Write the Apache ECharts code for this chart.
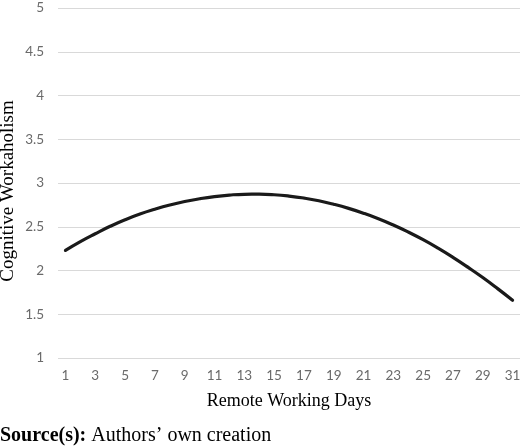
<!DOCTYPE html>
<html>
<head>
<meta charset="utf-8">
<script src="https://cdn.jsdelivr.net/npm/echarts@6/dist/echarts.min.js"></script>
<style>
  html, body { margin: 0; padding: 0; background: #fff; }
  #chart-container { width: 520px; height: 448px; }
</style>
</head>
<body>
<div id="chart-container"></div>
<script>
// remote working days (x axis categories)
const days = [1, 2, 3, 4, 5, 6, 7, 8, 9, 10, 11, 12, 13, 14, 15, 16,
  17, 18, 19, 20, 21, 22, 23, 24, 25, 26, 27, 28, 29, 30, 31];
// cognitive workaholism
const workaholism = [2.23, 2.33, 2.42, 2.505, 2.58, 2.645, 2.70, 2.748, 2.788, 2.82, 2.845,
  2.862, 2.871, 2.872, 2.866, 2.851, 2.828, 2.797, 2.757, 2.71, 2.655, 2.592, 2.52,
  2.44, 2.352, 2.255, 2.15, 2.038, 1.92, 1.793, 1.66];
const yTicks = { min: 1, max: 5, step: 0.5 };

(() => {
  var dom = document.getElementById("chart-container");
  // @ts-ignore
  var chart = echarts.init(dom, null, { renderer: "canvas" });
  const serif = "'Liberation Serif', 'DejaVu Serif', serif";
  const sans = "Lato, 'Open Sans', sans-serif";
  const option = {
    animation: false,
    title: {
      left: 0,
      top: 426,
      padding: 0,
      text: "{b|Source(s):} Authors\u2019 own creation",
      textStyle: {
        fontFamily: serif,
        fontSize: 20,
        fontWeight: "normal",
        color: "#000",
        rich: {
          b: { fontFamily: serif, fontSize: 20, fontWeight: "bold", color: "#000" },
        },
      },
    },
    grid: { left: 58, right: 0, top: 8, bottom: 90, containLabel: false, outerBoundsMode: "none" },
    xAxis: {
      type: "category",
      data: days,
      boundaryGap: true,
      name: "Remote Working Days",
      nameLocation: "middle",
      nameGap: 34,
      nameMoveOverlap: false,
      nameTextStyle: { fontFamily: serif, fontSize: 18, color: "#000" },
      axisLine: { show: false },
      axisTick: { show: false },
      axisLabel: {
        interval: 1,
        margin: 11,
        fontFamily: sans,
        fontSize: 13.5,
        color: "#6a6a6a",
      },
    },
    yAxis: {
      type: "value",
      min: yTicks.min,
      max: yTicks.max,
      interval: yTicks.step,
      name: "Cognitive Workaholism",
      nameLocation: "middle",
      nameGap: 40,
      nameMoveOverlap: false,
      nameTextStyle: { fontFamily: serif, fontSize: 19, color: "#000", padding: [0, 16, 0, 0] },
      axisLine: { show: false },
      axisTick: { show: false },
      axisLabel: {
        margin: 14,
        fontFamily: sans,
        fontSize: 13.5,
        color: "#6a6a6a",
      },
      splitLine: { lineStyle: { color: "#d9d9d9", width: 1 } },
    },
    series: [
      {
        name: "Cognitive Workaholism",
        type: "line",
        data: workaholism,
        smooth: true,
        showSymbol: false,
        lineStyle: { color: "#1a1a1a", width: 3.2, cap: "round" },
      },
    ],
  };
  chart.setOption(option);
  window.addEventListener("resize", chart.resize);
})();
</script>
</body>
</html>
